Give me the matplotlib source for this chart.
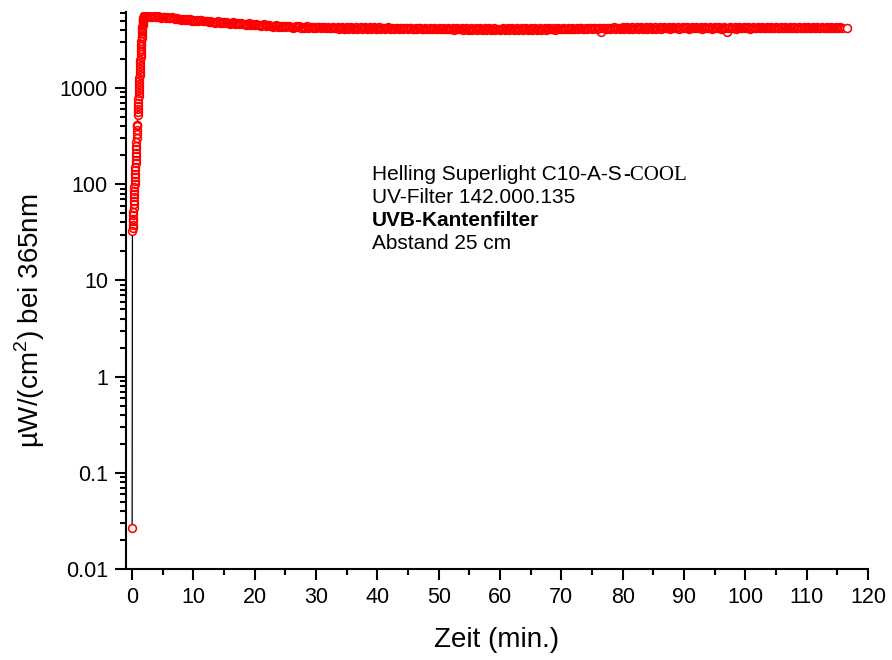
import numpy as np
import matplotlib.pyplot as plt
from matplotlib.ticker import FixedLocator, FuncFormatter, MultipleLocator

plt.rcParams['font.family'] = ['Liberation Sans', 'DejaVu Sans']
plt.rcParams['mathtext.fontset'] = 'custom'
plt.rcParams['mathtext.rm'] = 'Liberation Sans'

# Startpunkt (Lampe aus)
t_start = [0.0]
v_start = [0.027]

# Anlaufphase (min, uW/cm2)
t_rise = [0.05, 0.075, 0.10, 0.125, 0.15, 0.175, 0.20, 0.225, 0.25, 0.275,
          0.30, 0.325, 0.35, 0.375, 0.40, 0.425, 0.45, 0.475, 0.50, 0.525,
          0.55, 0.575, 0.60, 0.625, 0.65, 0.675, 0.70, 0.725, 0.75, 0.775,
          0.80, 0.825, 0.85, 0.90, 0.925, 0.95, 0.975, 1.00, 1.025, 1.05,
          1.075, 1.10, 1.125, 1.15, 1.175, 1.20, 1.225, 1.25, 1.275, 1.30,
          1.325, 1.35, 1.375, 1.40, 1.425, 1.45, 1.475, 1.50, 1.525, 1.55,
          1.575, 1.60, 1.625, 1.65, 1.675, 1.70, 1.725, 1.75, 1.775, 1.80,
          1.825, 1.85, 1.875, 1.90, 1.925, 1.95, 1.975, 2.00]
v_rise = [33, 35, 38, 41, 44, 48, 52, 57, 62, 67,
          73, 79, 86, 93, 100, 109, 118, 128, 139, 151,
          165, 179, 195, 212, 230, 252, 275, 300, 330, 365,
          400, 410, 415, 520, 560, 600, 650, 700, 760, 820,
          880, 950, 1020, 1100, 1190, 1280, 1380, 1480, 1590, 1700,
          1820, 1950, 2100, 2250, 2400, 2550, 2720, 2900, 3100, 3300,
          3500, 3700, 3900, 4100, 4300, 4500, 4680, 4850, 5000, 5150,
          5280, 5400, 5480, 5550, 5580, 5600, 5620, 5600]

# Dauerbetrieb, alle 0.25 min ab 2.25 min
v_flat = [5600, 5480, 5620, 5520, 5450, 5590, 5500, 5410, 5560, 5470, 5380, 5520, 5430, 5340, 5480, 5390, 5300, 5420, 5330, 5250,
          5300, 5160, 5250, 5120, 5220, 5080, 5190, 5040, 5150, 5210, 5010, 5130, 4990, 5080, 4960, 5040, 5150, 4950, 5010, 4920,
          4990, 4860, 4950, 4820, 4910, 4780, 4870, 4930, 4760, 4840, 4720, 4800, 4860, 4700, 4790, 4670, 4750, 4810, 4650, 4720,
          4740, 4610, 4690, 4580, 4660, 4540, 4630, 4690, 4520, 4600, 4490, 4570, 4630, 4470, 4550, 4440, 4520, 4580, 4420, 4490,
          4500, 4380, 4460, 4350, 4440, 4520, 4340, 4410, 4300, 4390, 4460, 4290, 4370, 4430, 4280, 4360, 4250, 4340, 4400, 4270,
          4380, 4250, 4330, 4230, 4310, 4380, 4210, 4290, 4350, 4200, 4280, 4190, 4270, 4340, 4190, 4260, 4320, 4180, 4250, 4310,
          4170, 4250, 4310, 4160, 4240, 4300, 4150, 4230, 4290, 4140, 4220, 4280, 4150, 4210, 4290, 4140, 4230, 4280, 4130, 4220,
          4270, 4130, 4210, 4280, 4120, 4200, 4260, 4130, 4190, 4270, 4110, 4200, 4260, 4120, 4180, 4250, 4110, 4190, 4260, 4120,
          4170, 4250, 4100, 4180, 4240, 4090, 4170, 4230, 4100, 4160, 4240, 4090, 4170, 4220, 4080, 4150, 4230, 4090, 4160, 4210,
          4080, 4150, 4220, 4070, 4140, 4210, 4080, 4150, 4200, 4060, 4130, 4210, 4070, 4140, 4200, 4060, 4130, 4190, 4070, 4140,
          4200, 4050, 4120, 4190, 4060, 4130, 4180, 4040, 4110, 4190, 4050, 4120, 4170, 4040, 4100, 4180, 4040, 4110, 4170, 4030,
          4100, 4170, 4030, 4090, 4160, 4040, 4100, 4170, 4020, 4090, 4150, 4030, 4100, 4160, 4020, 4080, 4160, 4030, 4090, 4170,
          4030, 4100, 4160, 4020, 4090, 4170, 4040, 4110, 4160, 4030, 4100, 4180, 4040, 4110, 4170, 4030, 4100, 4180, 4050, 4120,
          4180, 4050, 4110, 4190, 4060, 4130, 4180, 4050, 4120, 4200, 4070, 4140, 4190, 4060, 4130, 4210, 4070, 4140, 4200, 4080,
          4150, 4220, 4080, 4160, 4230, 4090, 4150, 4220, 4100, 4170, 4240, 4090, 4160, 4230, 4100, 4180, 4240, 3800, 4170, 4240,
          4110, 4180, 4250, 4120, 4190, 4260, 4120, 4200, 4250, 4130, 4190, 4270, 4130, 4200, 4260, 4140, 4210, 4270, 4130, 4200,
          4270, 4140, 4210, 4280, 4140, 4200, 4270, 4150, 4220, 4280, 4140, 4210, 4270, 4150, 4220, 4290, 4150, 4210, 4280, 4160,
          4220, 4290, 4150, 4230, 4280, 4160, 4220, 4290, 4150, 4230, 4290, 4160, 4220, 4280, 4150, 4230, 4290, 4160, 4220, 4280,
          4160, 4230, 4290, 4150, 4220, 4280, 4160, 4230, 4290, 4150, 4220, 4290, 4160, 4230, 4280, 4150, 4220, 4290, 4160, 3790,
          4230, 4290, 4160, 4220, 4280, 4150, 4230, 4290, 4160, 4220, 4290, 4160, 4230, 4280, 4150, 4220, 4290, 4170, 4230, 4290,
          4160, 4230, 4300, 4170, 4220, 4290, 4160, 4240, 4290, 4160, 4230, 4300, 4170, 4230, 4290, 4160, 4240, 4300, 4170, 4230,
          4290, 4160, 4240, 4300, 4170, 4230, 4290, 4160, 4240, 4300, 4170, 4230, 4290, 4170, 4240, 4300, 4160, 4230, 4290, 4170,
          4240, 4300, 4160, 4230, 4290, 4170, 4240, 4300, 4170, 4230, 4290, 4160, 4240, 4290, 4180]
t_flat = 2.25 + 0.25 * np.arange(len(v_flat))

# letzter Messpunkt
t_end = [116.6]
v_end = [4200]

t = np.concatenate([t_start, t_rise, t_flat, t_end])
v = np.concatenate([v_start, v_rise, v_flat, v_end])

fig = plt.figure(figsize=(8.92, 6.6), dpi=100)
ax = fig.add_axes([126 / 892, 1 - 569 / 660, (868 - 126) / 892, (569 - 12) / 660])

ms = 5.6
ax.plot(t, v, color='black', linewidth=0.9, zorder=2)
ax.plot(t, v, linestyle='none', marker='o', markersize=ms,
        markerfacecolor='white', markeredgecolor='none', zorder=3)
ax.plot(t, v, linestyle='none', marker='o', markersize=ms,
        markerfacecolor='none', markeredgecolor='red', markeredgewidth=1.15, zorder=4)
ax.plot(t_end, v_end, linestyle='none', marker='o', markersize=ms,
        markerfacecolor='white', markeredgecolor='red', markeredgewidth=1.0, zorder=5)

ax.set_yscale('log')
ax.set_xlim(-1, 120)
ax.set_ylim(0.01, 6170)

ax.xaxis.set_major_locator(MultipleLocator(10))
ax.xaxis.set_minor_locator(MultipleLocator(5))
ax.yaxis.set_major_locator(FixedLocator([0.01, 0.1, 1, 10, 100, 1000]))
ax.yaxis.set_major_formatter(FuncFormatter(lambda y, p: '%g' % y))
minors = [m * 10.0 ** e for e in range(-2, 4) for m in range(2, 10)]
ax.yaxis.set_minor_locator(FixedLocator(minors))
ax.yaxis.set_minor_formatter(FuncFormatter(lambda y, p: ''))

for s in ['top', 'right']:
    ax.spines[s].set_visible(False)
for s in ['left', 'bottom']:
    ax.spines[s].set_linewidth(1.5)
ax.tick_params(which='major', direction='out', length=8, width=1.5, labelsize=15.5, pad=5)
ax.tick_params(which='minor', direction='out', length=4.5, width=1.5)

fig.text(497 / 892, 1 - 640 / 660, 'Zeit (min.)', fontsize=20, ha='center', va='center')
fig.text(30 / 892, 1 - 321 / 660, r'µW/(cm$^\mathregular{2}$) bei 365nm', fontsize=20,
         rotation=90, ha='center', va='center')

# Beschriftung
x0 = 372 / 892
fs = 15
t1 = fig.text(x0, 1 - 180 / 660, 'Helling Superlight C10-A-S', fontsize=fs, va='baseline')
fig.canvas.draw()
bb = t1.get_window_extent(fig.canvas.get_renderer())
fig.text(bb.x1 / 892 + 2 / 892, 1 - 180 / 660, '-COOL', fontsize=fs, va='baseline',
         family='Liberation Serif')
fig.text(x0, 1 - 203 / 660, 'UV-Filter 142.000.135', fontsize=fs, va='baseline')
fig.text(x0, 1 - 226 / 660, 'UVB-Kantenfilter', fontsize=fs, va='baseline', fontweight='bold')
fig.text(x0, 1 - 249 / 660, 'Abstand 25 cm', fontsize=fs, va='baseline')

fig.savefig('out.png', dpi=100)
